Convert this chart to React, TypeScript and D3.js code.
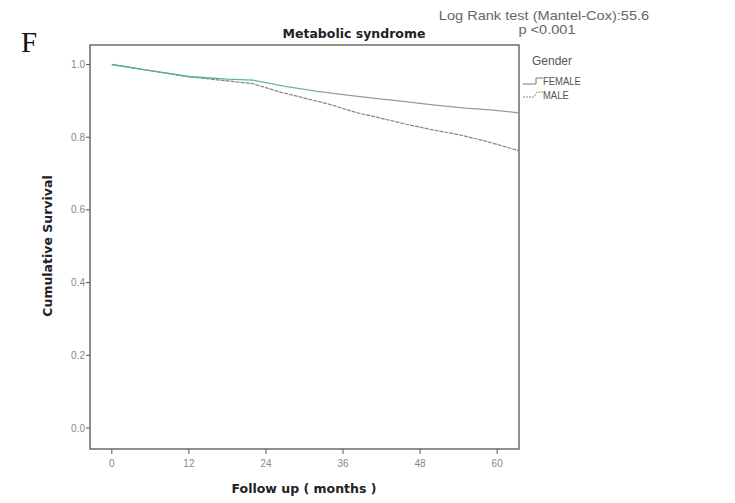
import React from "react";
import * as d3 from "d3";

const femaleMonths = [0, 6, 12, 18, 22, 27, 32, 37, 41, 45, 50, 55, 59, 63.4];
const femaleSurv = [1.0, 0.983, 0.967, 0.96, 0.957, 0.94, 0.926, 0.915, 0.907, 0.899, 0.889, 0.88, 0.875, 0.867];
const maleMonths = [0, 6, 12, 18, 22, 26, 29, 34, 38, 42, 46, 50, 54, 58, 63.4];
const maleSurv = [1.0, 0.983, 0.966, 0.955, 0.947, 0.925, 0.912, 0.89, 0.868, 0.852, 0.835, 0.82, 0.807, 0.79, 0.763];
const xTicks = [0, 12, 24, 36, 48, 60];
const yTicks = [0.0, 0.2, 0.4, 0.6, 0.8, 1.0];
const legendLabels = ["FEMALE", "MALE"];

const L = 90, R = 519, T = 45, B = 449;

export default function App() {
  const x = d3.scaleLinear().domain([-3.4, 63.4]).range([L, R]);
  const y = d3.scaleLinear().domain([0, 1]).range([428, 64.5]);
  const line = d3.line<[number, number]>().x((d) => x(d[0])).y((d) => y(d[1]));
  const fPts = femaleMonths.map((m, i) => [m, femaleSurv[i]] as [number, number]);
  const mPts = maleMonths.map((m, i) => [m, maleSurv[i]] as [number, number]);
  const font = "Arial, 'Liberation Sans', sans-serif";
  const bold = "'DejaVu Sans', Verdana, sans-serif";
  return (
    <svg width={735} height={503} style={{ position: "absolute", left: 0, top: 0, background: "#fff" }}>
      <defs>
        <linearGradient id="fg" gradientUnits="userSpaceOnUse" x1={x(0)} x2={R} y1={0} y2={0}>
          <stop offset="0" stopColor="#4aae9c" />
          <stop offset="0.48" stopColor="#6db3a6" />
          <stop offset="0.56" stopColor="#9a9a9a" />
          <stop offset="1" stopColor="#9a9a9a" />
        </linearGradient>
      </defs>
      <text x={21} y={52} fontFamily="'Liberation Serif', 'Times New Roman', serif" fontSize={29} fill="#111">F</text>
      <text x={544} y={20} textAnchor="middle" fontFamily={font} fontSize={13} fill="#666" transform="translate(544,0) scale(1.12,1) translate(-544,0)">Log Rank test (Mantel-Cox):55.6</text>
      <text x={547} y={34} textAnchor="middle" fontFamily={font} fontSize={13} fill="#666" transform="translate(547,0) scale(1.12,1) translate(-547,0)">p &lt;0.001</text>
      <text x={354} y={38} textAnchor="middle" fontFamily={bold} fontSize={12.5} fontWeight="bold" fill="#222">Metabolic syndrome</text>
      <rect x={L} y={T} width={R - L} height={B - T} fill="none" stroke="#555" strokeWidth={1.3} />
      {yTicks.map((t) => (
        <g key={t}>
          <line x1={L - 4} x2={L} y1={y(t)} y2={y(t)} stroke="#555" />
          <text x={L - 5} y={y(t) + 3.5} textAnchor="end" fontFamily={font} fontSize={10} fill="#888">{t.toFixed(1)}</text>
        </g>
      ))}
      {xTicks.map((t) => (
        <g key={t}>
          <line x1={x(t)} x2={x(t)} y1={B} y2={B + 5} stroke="#555" />
          <text x={x(t)} y={467} textAnchor="middle" fontFamily={font} fontSize={10} fill="#888">{t}</text>
        </g>
      ))}
      <text x={304} y={493} textAnchor="middle" fontFamily={bold} fontSize={12.5} fontWeight="bold" fill="#222">Follow up ( months )</text>
      <text transform={`translate(52,246) rotate(-90)`} textAnchor="middle" fontFamily={bold} fontSize={12.5} fontWeight="bold" fill="#222">Cumulative Survival</text>
      <path d={line(mPts) || ""} fill="none" stroke="#858585" strokeWidth={1.2} strokeDasharray="4,1" />
      <path d={line(fPts) || ""} fill="none" stroke="url(#fg)" strokeWidth={1.3} />
      <text x={532} y={65} fontFamily={font} fontSize={12} fill="#555">Gender</text>
      <path d="M523,84 L536,84 L536,78 L543,78" fill="none" stroke="#777" strokeWidth={1} />
      <path d="M523,97 L534,97 L537,92 L543,92" fill="none" stroke="#888" strokeWidth={1} strokeDasharray="2,1" />
      <text x={543} y={85} fontFamily={font} fontSize={10.5} fill="#555" transform="translate(543,0) scale(0.9,1) translate(-543,0)">{legendLabels[0]}</text>
      <text x={543} y={99} fontFamily={font} fontSize={10.5} fill="#555" transform="translate(543,0) scale(0.9,1) translate(-543,0)">{legendLabels[1]}</text>
    </svg>
  );
}
